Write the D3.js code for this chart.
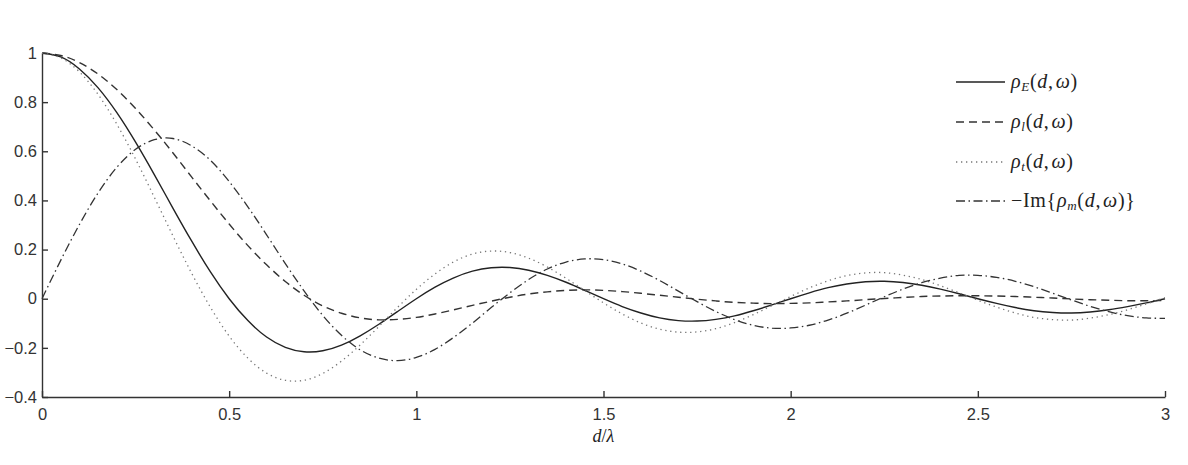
<!DOCTYPE html>
<html>
<head>
<meta charset="utf-8">
<script src="https://cdn.jsdelivr.net/npm/d3@7"></script>
<style>
  body { margin: 0; background: #fff; }
  svg { display: block; }
  .math { font-family: "Liberation Serif", "DejaVu Serif", serif; fill: #222; }
</style>
</head>
<body>
<script>
// sample positions d/λ (every 0.05)
const dVals = [0,0.05,0.1,0.15,0.2,0.25,0.3,0.35,0.4,0.45,0.5,0.55,0.6,0.65,0.7,0.75,0.8,0.85,0.9,0.95,
  1,1.05,1.1,1.15,1.2,1.25,1.3,1.35,1.4,1.45,1.5,1.55,1.6,1.65,1.7,1.75,1.8,1.85,1.9,1.95,
  2,2.05,2.1,2.15,2.2,2.25,2.3,2.35,2.4,2.45,2.5,2.55,2.6,2.65,2.7,2.75,2.8,2.85,2.9,2.95,3];

// values
const rhoE = [1,0.984,0.935,0.858,0.757,0.637,0.505,0.368,0.234,0.109,0,-0.089,-0.156,-0.198,-0.216,-0.212,-0.189,-0.151,-0.104,-0.052,
  0,0.047,0.085,0.112,0.126,0.127,0.116,0.095,0.067,0.034,0,-0.032,-0.058,-0.078,-0.089,-0.091,-0.084,-0.070,-0.049,-0.025,
  0,0.024,0.045,0.060,0.069,0.071,0.066,0.055,0.039,0.020,0,-0.019,-0.036,-0.049,-0.056,-0.058,-0.054,-0.045,-0.032,-0.017,0];
const rhoL = [1,0.990,0.961,0.914,0.851,0.774,0.687,0.593,0.495,0.398,0.304,0.216,0.138,0.070,0.014,-0.029,-0.059,-0.078,-0.086,-0.084,
  -0.076,-0.062,-0.045,-0.027,-0.010,0.006,0.019,0.028,0.034,0.036,0.034,0.029,0.022,0.014,0.006,-0.002,-0.009,-0.015,-0.018,-0.020,
  -0.019,-0.017,-0.013,-0.009,-0.004,0.001,0.005,0.009,0.011,0.012,0.012,0.011,0.009,0.006,0.003,-0.001,-0.004,-0.006,-0.008,-0.008,-0.008];
const rhoT = [1,0.980,0.923,0.831,0.710,0.568,0.413,0.255,0.103,-0.035,-0.152,-0.242,-0.303,-0.332,-0.332,-0.304,-0.254,-0.188,-0.113,-0.035,
  0.038,0.101,0.150,0.182,0.194,0.188,0.165,0.129,0.083,0.033,-0.017,-0.062,-0.099,-0.124,-0.136,-0.135,-0.122,-0.097,-0.065,-0.028,
  0.009,0.044,0.073,0.094,0.105,0.106,0.096,0.078,0.053,0.024,-0.006,-0.034,-0.058,-0.076,-0.085,-0.087,-0.079,-0.065,-0.045,-0.021,0.004];
const rhoM = [0,0.156,0.302,0.431,0.535,0.608,0.647,0.652,0.622,0.563,0.477,0.374,0.260,0.143,0.032,-0.068,-0.149,-0.208,-0.242,-0.252,
  -0.239,-0.206,-0.157,-0.099,-0.036,0.024,0.078,0.121,0.149,0.162,0.159,0.142,0.112,0.074,0.031,-0.012,-0.052,-0.085,-0.108,-0.120,
  -0.119,-0.108,-0.087,-0.059,-0.026,0.008,0.039,0.065,0.084,0.095,0.095,0.087,0.071,0.049,0.022,-0.005,-0.031,-0.053,-0.069,-0.078,-0.080];

const xTicks = [0, 0.5, 1, 1.5, 2, 2.5, 3];
const yTicks = [-0.4, -0.2, 0, 0.2, 0.4, 0.6, 0.8, 1];

const series = [
  { name: "E", values: rhoE, dash: null, color: "#222", width: 1.4 },
  { name: "l", values: rhoL, dash: "8,5", color: "#333", width: 1.4 },
  { name: "t", values: rhoT, dash: "1.3,3.7", color: "#777", width: 1.3 },
  { name: "m", values: rhoM, dash: "9,3.5,1.5,3.5", color: "#333", width: 1.3 }
];

const width = 1188, height = 465;

const svg = d3.select("body").append("svg")
  .attr("width", width)
  .attr("height", height);

const x = d3.scaleLinear().domain([0, 3]).range([42, 1165]);
const y = d3.scaleLinear().domain([-0.4, 1]).range([397, 53]);

const fmt = d3.format("");

// axes (ticks point inward, no box)
const gx = svg.append("g")
  .attr("transform", `translate(0,${y(-0.4)})`)
  .call(d3.axisBottom(x).tickValues(xTicks).tickFormat(fmt).tickSizeInner(-6).tickSizeOuter(0).tickPadding(11));
const gy = svg.append("g")
  .attr("transform", `translate(${x(0)},0)`)
  .call(d3.axisLeft(y).tickValues(yTicks).tickFormat(fmt).tickSizeInner(-6).tickSizeOuter(0).tickPadding(5));
[gx, gy].forEach(g => {
  g.selectAll(".tick text")
    .style("font-family", "'Liberation Sans', Arial, sans-serif")
    .style("font-size", "16.5px")
    .attr("fill", "#333");
  g.select(".domain").attr("stroke", "#333").attr("stroke-width", 1.4);
  g.selectAll(".tick line").attr("stroke", "#333").attr("stroke-width", 1.4);
});

// x label
const xl = svg.append("text").attr("class", "math").attr("font-size", 18)
  .attr("x", x(1.5)).attr("y", 442).attr("text-anchor", "middle");
xl.append("tspan").attr("font-style", "italic").text("d");
xl.append("tspan").text("/");
xl.append("tspan").attr("font-style", "italic").text("λ");

// curves
const line = d3.line()
  .x((d, i) => x(dVals[i]))
  .y(d => y(d))
  .curve(d3.curveNatural);

svg.append("g").selectAll("path")
  .data(series)
  .join("path")
  .attr("fill", "none")
  .attr("stroke", d => d.color)
  .attr("stroke-width", d => d.width)
  .attr("stroke-dasharray", d => d.dash)
  .attr("d", d => line(d.values));

// legend
const legend = svg.append("g");
const rowY = [82, 122, 162, 201];
series.forEach((s, i) => {
  legend.append("line")
    .attr("x1", 956).attr("x2", 1005)
    .attr("y1", rowY[i]).attr("y2", rowY[i])
    .attr("stroke", s.color)
    .attr("stroke-width", s.width)
    .attr("stroke-dasharray", s.dash);

  const t = legend.append("text").attr("class", "math").attr("font-size", 20)
    .attr("letter-spacing", 0.7)
    .attr("x", 1011).attr("y", rowY[i] + 6);
  if (s.name === "m") {
    t.append("tspan").text("−Im{");
  }
  t.append("tspan").attr("font-style", "italic").text("ρ");
  t.append("tspan").attr("font-style", "italic").attr("font-size", 13)
    .attr("dy", 3).text(s.name);
  t.append("tspan").attr("dy", -3).text("(");
  t.append("tspan").attr("font-style", "italic").text("d");
  t.append("tspan").text(",");
  t.append("tspan").attr("font-style", "italic").attr("dx", 2).text("ω");
  t.append("tspan").text(s.name === "m" ? ")}" : ")");
});
</script>
</body>
</html>
